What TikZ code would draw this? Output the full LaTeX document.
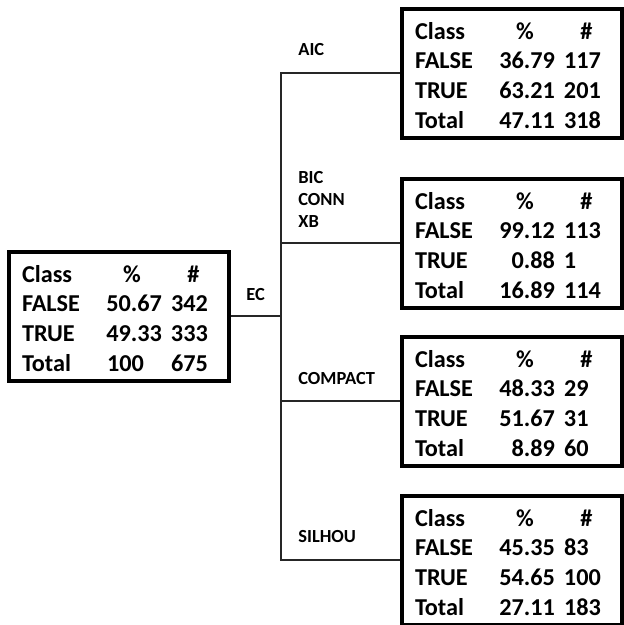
\documentclass[tikz,border=0pt]{standalone}
\usepackage{fontspec}
\usepackage{array}
\setmainfont{Carlito}
\usetikzlibrary{positioning}
\setlength{\tabcolsep}{0pt}

\newcommand{\classtab}[6]{%
\begin{tabular}{p{1.6cm}>{\raggedleft\arraybackslash}p{1.2cm}@{\hspace{0.18cm}}p{0.9cm}}
\rule{0pt}{0.6cm}Class & \multicolumn{1}{c@{\hspace{0.18cm}}}{\%} & \multicolumn{1}{c}{\#}\\
FALSE & #1 & #2\\
TRUE & #3 & #4\\
Total & #5 & #6
\end{tabular}}

\tikzset{
  classbox/.style={draw,line width=2.3pt,anchor=north west,inner xsep=0.26cm,inner ysep=0pt,
    font=\fontsize{13.8}{17}\selectfont\bfseries},
  lbl/.style={inner sep=0pt,font=\fontsize{10.5}{12.5}\selectfont\bfseries},
  branch/.style={line width=1.1pt,black!85}
}

\begin{document}
\begin{tikzpicture}[x=0.02cm,y=-0.02cm]
\useasboundingbox (0,0) rectangle (623,625);

\node[classbox] (root) at (7,250) {\classtab{50.67}{342}{49.33}{333}{\multicolumn{1}{l@{\hspace{0.18cm}}}{\hspace{0.1cm}100}}{675}};

\node[classbox] (aic) at (400,7) {\classtab{36.79}{117}{63.21}{201}{47.11}{318}};
\node[classbox] (bic) at (400,177) {\classtab{99.12}{113}{0.88}{1}{16.89}{114}};
\node[classbox] (compact) at (400,335) {\classtab{48.33}{29}{51.67}{31}{8.89}{60}};
\node[classbox] (silhou) at (400,494) {\classtab{45.35}{83}{54.65}{100}{27.11}{183}};

\coordinate[right=1cm of root] (split);

\draw[branch] (root.east) -- (split);
\draw[branch] (split) |- (aic.west);
\draw[branch] (split) |- (bic.west);
\draw[branch] (split) |- (compact.west);
\draw[branch] (split) |- (silhou.west);

\node[lbl,anchor=base west] (lec) at (246,300) {EC};
\node[lbl,anchor=base west] (laic) at (298,56) {AIC};
\node[lbl,anchor=north west,align=left] (lbic) at (298,171) {BIC\\CONN\\XB};
\node[lbl,anchor=base west] (lcompact) at (298,384) {COMPACT};
\node[lbl,anchor=base west] (lsilhou) at (298,542) {SILHOU};
\end{tikzpicture}
\end{document}
